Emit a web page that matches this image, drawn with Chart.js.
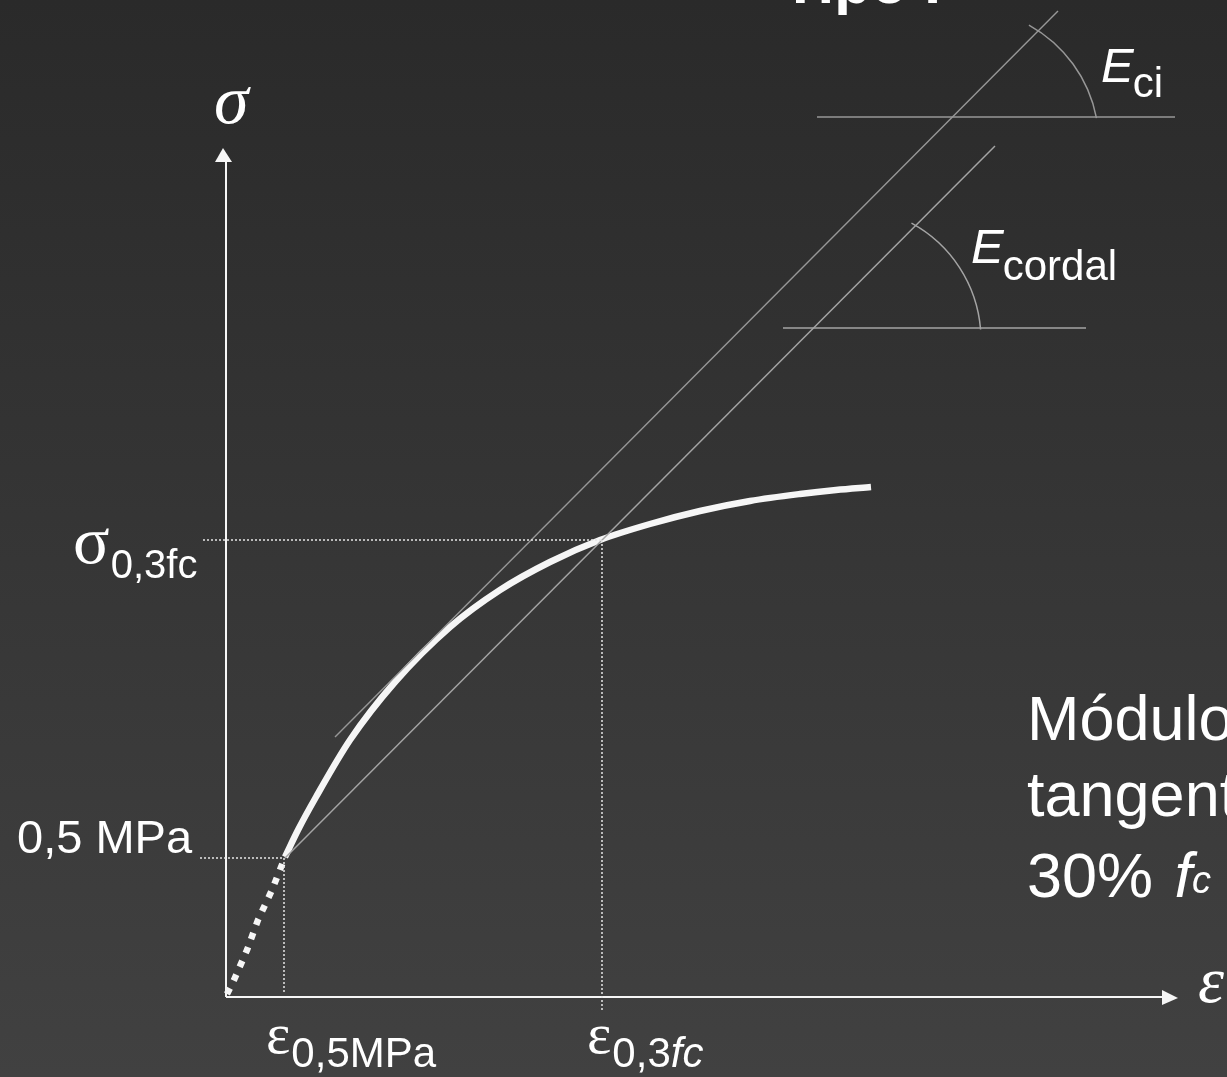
<!DOCTYPE html>
<html>
<head>
<meta charset="utf-8">
<title>Tipo I</title>
<script src="https://cdn.jsdelivr.net/npm/chart.js@4.4.1/dist/chart.umd.min.js"></script>
<style>
  html, body { margin: 0; padding: 0; background: #353535; overflow: hidden; }
  canvas { display: block; }
</style>
</head>
<body>
<canvas id="chart" width="1227" height="1077"></canvas>
<script>
// Stress–strain curve of concrete, schematic units (strain → x, stress → y)
const curveStrain = [59, 72, 90, 124, 169, 224, 274, 324, 374, 424, 474, 524, 574, 610, 645];
const curveStress = [140, 167, 200, 257, 315, 370, 407, 435, 457, 473, 486, 496, 503, 507, 510];

// initial (seating) branch below 0,5 MPa
const initialStrain = [1, 8, 21, 32, 46, 59];
const initialStress = [3, 17, 47, 77, 107, 140];

// reference points on the curve
const eps05 = 58, sig05 = 139;     // 0,5 MPa
const eps03 = 376, sig03 = 457;    // 0,3 fc

// chord (E cordal) and tangent (E ci) lines
const chordStrain = [59, 769];
const chordStress = [139, 851];
const tangentStrain = [109, 832];
const tangentStress = [260, 986];

// horizontal bases of the angle symbols
const eciBaseStrain = [591, 949];
const eciBaseStress = [880, 880];
const cordalBaseStrain = [557, 860];
const cordalBaseStress = [669, 669];

// text
const titleText = 'Tipo I';
const stressAxisLabel = 'σ';
const strainAxisLabel = 'ε';
const stressMarkLow = '0,5 MPa';
const noteLines = ['Módulo', 'tangente'];

const pts = (xs, ys) => xs.map((x, i) => ({ x, y: ys[i] }));

const WHITE = '#f6f6f6';
const GREY = '#a4a4a4';

function lineSet(xs, ys, color, width, dash, extra) {
  return Object.assign({
    data: pts(xs, ys),
    showLine: true,
    borderColor: color,
    borderWidth: width,
    borderDash: dash || [],
    borderCapStyle: 'butt',
    pointRadius: 0,
    fill: false
  }, extra || {});
}

const datasets = [
  // dotted reference lines
  lineSet([-23, eps03], [sig03, sig03], '#e6e6e6', 1.5, [2, 2]),
  lineSet([eps03, eps03], [sig03, -13], '#e6e6e6', 1.5, [2, 2]),
  lineSet([-26, eps05], [sig05, sig05], '#e6e6e6', 1.5, [2, 2]),
  lineSet([eps05, eps05], [sig05, 3], '#e6e6e6', 1.5, [2, 2]),
  // axes
  lineSet([0, 0], [0, 836], WHITE, 2),
  lineSet([0, 937], [0, 0], WHITE, 2),
  // modulus lines
  lineSet(tangentStrain, tangentStress, '#979797', 1.4),
  lineSet(chordStrain, chordStress, GREY, 1.5),
  lineSet(eciBaseStrain, eciBaseStress, '#979797', 1.5),
  lineSet(cordalBaseStrain, cordalBaseStress, GREY, 1.5),
  // curve
  lineSet(initialStrain, initialStress, WHITE, 6.5, [6.5, 8.5]),
  lineSet(curveStrain, curveStress, WHITE, 6.5, [], { cubicInterpolationMode: 'monotone' })
];

const SANS = '"Liberation Sans", Arial, sans-serif';
const SERIF = '"Liberation Serif", "Times New Roman", serif';

const background = {
  id: 'background',
  beforeDraw(chart) {
    const { ctx, width, height } = chart;
    const g = ctx.createLinearGradient(0, 0, 0, height);
    g.addColorStop(0, '#2a2a2a');
    g.addColorStop(1, '#414141');
    ctx.save();
    ctx.fillStyle = g;
    ctx.fillRect(0, 0, width, height);
    ctx.restore();
  }
};

const annotations = {
  id: 'annotations',
  afterDatasetsDraw(chart) {
    const { ctx } = chart;
    const sx = chart.scales.x, sy = chart.scales.y;
    const px = v => sx.getPixelForValue(v);
    const py = v => sy.getPixelForValue(v);

    // arrow heads
    ctx.save();
    ctx.fillStyle = WHITE;
    ctx.beginPath();
    ctx.moveTo(px(-3), py(849));
    ctx.lineTo(px(-11), py(835));
    ctx.lineTo(px(6), py(835));
    ctx.closePath();
    ctx.fill();
    ctx.beginPath();
    ctx.moveTo(px(952), py(-1));
    ctx.lineTo(px(936), py(7));
    ctx.lineTo(px(936), py(-8));
    ctx.closePath();
    ctx.fill();

    // angle arcs
    const arc = (cx, cy, r, a0, a1, color) => {
      const rp = px(cx + r) - px(cx);
      ctx.beginPath();
      ctx.strokeStyle = color;
      ctx.lineWidth = 1.5;
      ctx.arc(px(cx), py(cy), rp, -a1 * Math.PI / 180, -a0 * Math.PI / 180);
      ctx.stroke();
    };
    arc(737, 853, 136, 11, 61, '#979797');
    arc(622, 657, 133, 4.5, 61.5, GREY);

    // text helpers
    ctx.fillStyle = '#ffffff';
    ctx.textBaseline = 'alphabetic';
    ctx.textAlign = 'left';
    const text = (s, x, y, font) => {
      ctx.font = font;
      ctx.fillText(s, x, y);
      return x + ctx.measureText(s).width;
    };

    // title (partly above the canvas edge)
    text(titleText, 782, 3, 'bold 60px ' + SANS);

    // axis names
    text(stressAxisLabel, 214, 123, 'italic 70px ' + SERIF);
    text(strainAxisLabel, 1198, 1002, 'italic 66px ' + SERIF);

    // stress marks
    let e = text('σ', 73, 563, '68px ' + SERIF);
    text('0,3fc', e + 1, 578, '40px ' + SANS);
    text(stressMarkLow, 17, 853, '47px ' + SANS);

    // strain marks
    e = text('ε', 266, 1053, '58px ' + SERIF);
    text('0,5MPa', e + 1, 1067, '42px ' + SANS);
    e = text('ε', 587, 1053, '58px ' + SERIF);
    e = text('0,3', e + 1, 1067, '42px ' + SANS);
    text('fc', e, 1067, 'italic 42px ' + SANS);

    // moduli
    e = text('E', 1101, 82, 'italic 49px ' + SANS);
    text('ci', e - 1, 97, '42px ' + SANS);
    e = text('E', 971, 263, 'italic 49px ' + SANS);
    text('cordal', e - 1, 280, '42px ' + SANS);

    // note
    text(noteLines[0], 1027, 740, '63px ' + SANS);
    text(noteLines[1], 1027, 816, '63px ' + SANS);
    e = text('30% ', 1027, 897, '63px ' + SANS);
    e = text('f', e + 4, 897, 'italic 63px ' + SANS);
    text('c', e, 893, 'italic 38px ' + SANS);
    ctx.restore();
  }
};

new Chart(document.getElementById('chart'), {
  type: 'scatter',
  data: { datasets },
  options: {
    responsive: false,
    animation: false,
    devicePixelRatio: 1,
    layout: { padding: 0 },
    events: [],
    plugins: { legend: { display: false }, tooltip: { enabled: false }, title: { display: false } },
    scales: {
      x: { type: 'linear', min: -226, max: 1001, display: false },
      y: { type: 'linear', min: -80, max: 997, display: false }
    }
  },
  plugins: [background, annotations]
});
</script>
</body>
</html>
